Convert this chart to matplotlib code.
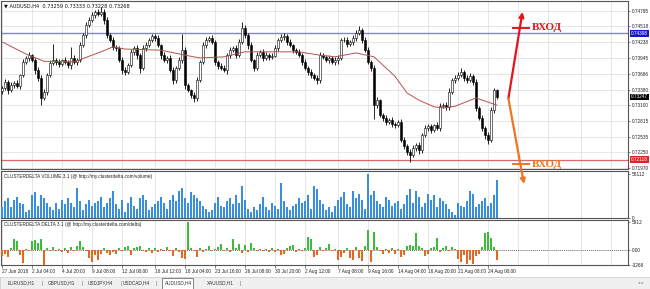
import matplotlib
matplotlib.use('Agg')
import matplotlib.pyplot as plt
import matplotlib.transforms as mtransforms
from matplotlib.patches import Rectangle
import numpy as np

plt.rcParams['font.family'] = ['Liberation Sans', 'DejaVu Sans']

# ---------------- data ----------------
header = "\u25BC AUDUSD,H4  0.73259 0.73333 0.73228 0.73268"
first_open = 0.7335
closes = [
    0.7341, 0.7352, 0.7337, 0.7346, 0.7350, 0.7345, 0.7364, 0.7388, 0.7395, 0.7400,
    0.7391, 0.7373, 0.7359, 0.7323, 0.7334, 0.7364, 0.7386, 0.7391, 0.7388, 0.7384,
    0.7391, 0.7388, 0.7382, 0.7395, 0.7388, 0.7391, 0.7418, 0.7436, 0.7454, 0.7463,
    0.7472, 0.7478, 0.7474, 0.7478, 0.7463, 0.7436, 0.7427, 0.7415, 0.7413, 0.7391,
    0.7373, 0.7370, 0.7382, 0.7406, 0.7413, 0.7400, 0.7377, 0.7413, 0.7418, 0.7427,
    0.7434, 0.7431, 0.7418, 0.7400, 0.7391, 0.7395, 0.7373, 0.7355, 0.7377, 0.7391,
    0.7409, 0.7346, 0.7337, 0.7328, 0.7323, 0.7355, 0.7388, 0.7418, 0.7427, 0.7431,
    0.7424, 0.7388, 0.7381, 0.7377, 0.7373, 0.7400, 0.7409, 0.7413, 0.7400, 0.7424,
    0.7449, 0.7436, 0.7418, 0.7391, 0.7377, 0.7400, 0.7406, 0.7395, 0.7400, 0.7397,
    0.7399, 0.7413, 0.7427, 0.7433, 0.7434, 0.7424, 0.7418, 0.7409, 0.7406, 0.7400,
    0.7388, 0.7377, 0.7370, 0.7364, 0.7359, 0.7355, 0.7400, 0.7397, 0.7391, 0.7395,
    0.7388, 0.7391, 0.7395, 0.7427, 0.7427, 0.7420, 0.7424, 0.7431, 0.7440, 0.7445,
    0.7427, 0.7409, 0.7388, 0.7377, 0.7310, 0.7319, 0.7292, 0.7287, 0.7280, 0.7283,
    0.7276, 0.7274, 0.7280, 0.7247, 0.7237, 0.7226, 0.7220, 0.7233, 0.7238, 0.7229,
    0.7256, 0.7269, 0.7272, 0.7265, 0.7274, 0.7269, 0.7308, 0.7310, 0.7307, 0.7334,
    0.7355, 0.7359, 0.7364, 0.7370, 0.7359, 0.7355, 0.7362, 0.7352, 0.7305, 0.7287,
    0.7269, 0.7256, 0.7247, 0.7301, 0.7337, 0.7325,
]
wick_up_pips = [
    4, 6, 3, 5, 4, 5, 3, 6, 4, 5,
    3, 4, 5, 6, 5, 4, 6, 30, 4, 5,
    3, 6, 4, 20, 5, 4, 6, 4, 5, 6,
    5, 4, 6, 8, 5, 6, 4, 5, 3, 4,
    5, 6, 4, 5, 3, 6, 4, 5, 6, 4,
    5, 4, 6, 3, 5, 4, 6, 5, 4, 6,
    30, 5, 4, 3, 5, 6, 4, 5, 6, 4,
    5, 4, 3, 5, 6, 4, 5, 4, 6, 5,
    10, 5, 4, 6, 3, 5, 4, 6, 5, 4,
    5, 6, 4, 6, 6, 4, 5, 3, 4, 5,
    4, 6, 3, 5, 4, 6, 5, 4, 3, 5,
    4, 6, 5, 4, 6, 5, 4, 5, 6, 8,
    4, 5, 6, 4, 5, 6, 3, 4, 5, 4,
    5, 3, 4, 6, 5, 4, 5, 6, 4, 5,
    4, 6, 5, 4, 3, 5, 6, 4, 5, 6,
    4, 5, 6, 7, 4, 5, 6, 4, 5, 4,
    5, 4, 6, 5, 4, 3,
]
wick_dn_pips = [
    5, 4, 6, 3, 5, 4, 6, 3, 4, 5,
    4, 6, 5, 13, 4, 5, 3, 4, 6, 5,
    4, 3, 5, 6, 4, 5, 3, 4, 5, 4,
    3, 5, 4, 3, 6, 5, 4, 6, 5, 4,
    6, 5, 4, 3, 5, 6, 9, 4, 5, 3,
    4, 5, 3, 6, 4, 5, 4, 6, 5, 4,
    5, 6, 4, 5, 8, 6, 4, 3, 5, 4,
    4, 6, 5, 4, 3, 6, 5, 4, 5, 3,
    4, 5, 6, 4, 5, 3, 4, 5, 4, 6,
    4, 3, 5, 4, 5, 6, 4, 5, 3, 4,
    5, 4, 6, 5, 4, 6, 5, 3, 4, 5,
    4, 5, 6, 4, 3, 5, 4, 6, 5, 4,
    5, 4, 3, 6, 25, 5, 4, 6, 5, 4,
    6, 5, 4, 3, 6, 5, 12, 4, 5, 6,
    5, 4, 6, 5, 4, 3, 5, 4, 6, 5,
    4, 5, 3, 4, 6, 5, 4, 6, 5, 4,
    5, 6, 6, 4, 5, 4,
]
volumes_k = [
    15, 22, 26, 14, 24, 28, 20, 18, 8, 10, 30, 34, 16, 30, 26, 20, 14, 10, 20, 12,
    24, 18, 26, 20, 14, 40, 22, 10, 18, 24, 16, 20, 22, 28, 14, 20, 26, 36, 18, 12,
    24, 8,
    20, 28, 16, 12, 26, 30, 24, 10, 14, 18, 22, 28, 20, 12, 24, 30, 22, 36, 40, 26,
    20, 34, 30, 26, 22, 16, 12, 8, 10, 20, 28, 16, 14, 22, 26, 18, 30, 20, 42, 24,
    12,
    8, 14, 10, 18, 28, 14, 10, 20, 16, 12, 46, 22, 14, 10, 16, 18, 26, 20, 22, 30,
    12, 42, 38, 24, 18, 10, 14, 8, 16, 24, 28, 34, 18, 14, 36, 26, 32, 24, 12, 58,
    30,
    36, 22, 18, 14, 28, 24, 16, 20, 22, 12, 18, 30, 38, 20, 36, 28, 14, 20, 32, 24,
    30, 14, 26, 22, 18, 12, 8, 4, 20, 16, 14, 22, 36, 32, 14, 18, 22, 26, 16, 20,
    30, 50,
]
deltas = [
    -1400, -900, -1500, 300, 2400, 1800, -1200, -2800, 200, -300,
    1900, 2200, 1500, 2300, -3200, 400, -200, 600, -300, 200,
    -400, 300, -700, 500, -200, 800, 1800, 500, -300, -1800,
    -2600, -1200, -2200, -900, 300, -600, -1200, -500, -900, 400,
    -300, 600, 900, -1100, 300, 700, 800, -200, -500, 300,
    -600, 400, -400, 200, -300, 500, -200, -1300, 300, -400,
    -1800, -2000, 5900, 400, -300, -1500, 300, -400, 200, 900,
    -300, 200, 600, 1300, -200, 400, -500, 2300, 300, 1200,
    -700, 1100, -400, 1500, 300, -200, 100, -300, 200, -400,
    300, -500, 200, -1200, -800, 300, 900, 1100, -400, 200,
    -300, 400, 2800, 2400, -1600, -1100, 500, -200, 300, 1200,
    -300, 200, -2100, -1500, -600, 400, -1800, -2200, 600, -1700,
    -2400, 800, 4200, -2600, 3800, 700, -300, -800, 200, -600,
    300, -900, 200, -1500, -1200, 900, 1100, 800, 3500, 900,
    400, -1300, -1000, 300, 500, 2500, -400, 400, 900, -300,
    600, 200, -1900, -2600, -1200, -3100, -2200, -3000, -1400, -800,
    600, 3500, 3800, 2500, 600, -2200,
]
ma_idx = [0, 8, 14, 24, 33, 37, 41, 53, 61, 66, 74, 81, 91, 99, 106, 111, 118,
          124, 131, 135, 139, 144, 147, 151, 158, 165]
ma_val = [0.7424, 0.7402, 0.7389, 0.7388, 0.7406, 0.7415, 0.7411, 0.7409, 0.7400,
          0.7395, 0.7397, 0.7406, 0.7406, 0.7406, 0.7400, 0.7397, 0.7404, 0.7397,
          0.7362, 0.7332, 0.7319, 0.7307, 0.7305, 0.7308, 0.7323, 0.7310]

level_blue = 0.74398
level_red = 0.72118
last_price = 0.73247
price_ticks = [0.74795, 0.74518, 0.74238, 0.73945, 0.73666, 0.73380, 0.73100,
               0.72815, 0.72535, 0.72250, 0.71970]
vol_max = 58112
delta_max = 5912
delta_min = -3268
date_labels = ["27 Jun 2018", "2 Jul 04:00", "4 Jul 20:00", "9 Jul 08:00",
               "12 Jul 00:00", "16 Jul 12:00", "18 Jul 04:00", "23 Jul 16:00",
               "26 Jul 08:00", "30 Jul 20:00", "2 Aug 12:00", "7 Aug 08:00",
               "9 Aug 16:00", "14 Aug 04:00", "16 Aug 20:00", "21 Aug 08:00",
               "24 Aug 00:00"]
date_pos = [0, 10, 20, 30, 40, 51, 61, 71, 81, 91, 101, 112, 122, 132, 142, 152, 162]
extra_grid = [172, 182, 193, 203]
tabs = ["EURUSD,H1", "GBPUSD,H1", "USDJPY,H4", "USDCAD,H4", "AUDUSD,H4", "XAUUSD,H1"]
active_tab = "AUDUSD,H4"

# annotation arrows (bar index, price)
arrow_start = (168.8, 0.7322)
arrow_up_end = (173.5, 0.7478)
arrow_dn_end = (174.0, 0.7168)
entry_up = 0.7449
entry_dn = 0.7204
entry_text = "ВХОД"

# ---------------- figure ----------------
W, H = 650, 289
fig = plt.figure(figsize=(W / 100, H / 100), dpi=100)
fig.patch.set_facecolor('white')

def fax(x0, y0, x1, y1):
    return fig.add_axes([x0 / W, 1 - y1 / H, (x1 - x0) / W, (y1 - y0) / H])

ax = fax(1, 1, 628, 169)
axv = fax(1, 171, 628, 218)
axd = fax(1, 220, 628, 265)
ax.set_zorder(5)

n = len(closes)
idx = np.arange(n)
closes_a = np.array(closes)
opens = np.concatenate([[first_open], closes_a[:-1]])
highs = np.maximum(opens, closes_a) + np.array(wick_up_pips) * 1e-4
lows = np.minimum(opens, closes_a) - np.array(wick_dn_pips) * 1e-4

XL = (-0.33, 208.67)
grid_x = date_pos + extra_grid
gcol = '#dcdcdc'
for a in (ax, axv, axd):
    a.set_xlim(*XL)
    a.set_facecolor('white')
    for gx in grid_x:
        a.axvline(gx, color=gcol, lw=0.5, zorder=0)
    for s in a.spines.values():
        s.set_color('#555555')
        s.set_linewidth(0.8)
    a.yaxis.tick_right()
    a.tick_params(axis='y', labelsize=3.4, length=1.5, width=0.4, pad=1.2, colors='#222222')
    a.tick_params(axis='x', length=0, labelbottom=False)

# main chart
ax.set_ylim(0.71951, 0.74975)
for p in price_ticks:
    ax.axhline(p, color=gcol, lw=0.5, zorder=0)
ax.set_yticks(price_ticks)
ax.set_yticklabels([f"{p:.5f}" for p in price_ticks])

ax.vlines(idx, lows, highs, color='black', lw=0.6, zorder=3)
bull = closes_a >= opens
body_bot = np.minimum(opens, closes_a)
body_h = np.maximum(np.abs(closes_a - opens), 0.00004)
ax.bar(idx[bull], body_h[bull], bottom=body_bot[bull], width=0.65,
       color='white', edgecolor='black', linewidth=0.4, zorder=4)
ax.bar(idx[~bull], body_h[~bull], bottom=body_bot[~bull], width=0.65,
       color='black', edgecolor='black', linewidth=0.4, zorder=4)
ax.plot(ma_idx, ma_val, color='#b5524e', lw=0.7, zorder=5)

ax.axhline(level_blue, color='#8585c0', lw=1.0, zorder=2)
ax.axhline(level_red, color='#d46a6a', lw=0.9, zorder=2)

tr = mtransforms.blended_transform_factory(ax.transAxes, ax.transData)
for val, bg in ((level_blue, '#1414c8'), (last_price, '#000000'), (level_red, '#e02424')):
    ax.text(1.0045, val, f"{val:.5f}", transform=tr, fontsize=3.4, color='white',
            va='center', ha='left', zorder=10,
            bbox=dict(facecolor=bg, edgecolor='none', pad=0.7))

ax.text(0.005, 0.985, header, transform=ax.transAxes, fontsize=3.6, va='top',
        ha='left', color='#111111', family=['DejaVu Sans'])

# arrows and entry marks
a1 = ax.annotate('', xy=arrow_up_end, xytext=arrow_start, annotation_clip=False,
                 arrowprops=dict(arrowstyle='-|>', color='#e4141c', lw=1.6,
                                 mutation_scale=7, shrinkA=0, shrinkB=0), zorder=12)
a2 = ax.annotate('', xy=arrow_dn_end, xytext=arrow_start, annotation_clip=False,
                 arrowprops=dict(arrowstyle='-|>', color='#f07422', lw=1.6,
                                 mutation_scale=7, shrinkA=0, shrinkB=0), zorder=12)
for a_ in (a1, a2):
    a_.set_clip_on(False)
    a_.arrow_patch.set_clip_on(False)
ax.plot([170.0, 176.0], [entry_up, entry_up], color='#e4141c', lw=1.4,
        clip_on=False, zorder=12, solid_capstyle='butt')
ax.plot([170.0, 176.0], [entry_dn, entry_dn], color='#f07422', lw=1.4,
        clip_on=False, zorder=12, solid_capstyle='butt')
ax.text(176.6, entry_up, entry_text, color='#e4141c', fontsize=8, fontweight='bold',
        family=['Liberation Serif', 'DejaVu Serif'], va='center', ha='left', zorder=12)
ax.text(176.6, entry_dn, entry_text, color='#f07422', fontsize=8, fontweight='bold',
        family=['Liberation Serif', 'DejaVu Serif'], va='center', ha='left', zorder=12,
        clip_on=False)

# volume panel
vols = np.array(volumes_k) * 1000
axv.bar(idx, vols, width=0.7, color='#3a8ede', zorder=3)
axv.set_ylim(0, vol_max * 47 / 44)
axv.set_yticks([0, vol_max])
axv.set_yticklabels(['0', str(vol_max)])
axv.text(0.005, 0.93, "CLUSTERDELTA VOLUME 3.1 (@ http://my.clusterdelta.com/volume)",
         transform=axv.transAxes, fontsize=3.4, va='top', ha='left', color='#222222',
         zorder=6)

# delta panel
d = np.array(deltas)
axd.bar(idx[d >= 0], d[d >= 0], width=0.55, color='#3dbb3d', zorder=3)
axd.bar(idx[d < 0], d[d < 0], width=0.55, color='#e8661e', zorder=3)
axd.set_ylim(delta_min, 6400)
axd.axhline(0, color='#333333', lw=0.5, ls=(0, (1.5, 1.5)), zorder=2)
axd.set_yticks([delta_min, 0, delta_max])
axd.set_yticklabels([str(delta_min), '0.00', str(delta_max)])
axd.text(0.005, 0.95, "CLUSTERDELTA DELTA 3.1 (@ http://my.clusterdelta.com/delta)",
         transform=axd.transAxes, fontsize=3.4, va='top', ha='left', color='#222222')

axd.set_xticks(date_pos)
axd.set_xticklabels(date_labels, ha='left')
axd.tick_params(axis='x', labelbottom=True, labelsize=3.4, length=2, width=0.4,
                pad=1.2, colors='#222222')

# tab strip
fig.patches.append(Rectangle((0, 0), 1, 12.5 / H, transform=fig.transFigure,
                             facecolor='#f0f0f0', edgecolor='#c8c8c8', lw=0.5))
tab_x = [8, 48, 88, 123, 165, 207]
for t, tx in zip(tabs, tab_x):
    if t == active_tab:
        fig.patches.append(Rectangle(((tx - 3) / W, 0.5 / H), 31 / W, 11 / H,
                                     transform=fig.transFigure, facecolor='white',
                                     edgecolor='#555555', lw=0.5))
    fig.text(tx / W, 6 / H, t, fontsize=3.4, va='center', ha='left', color='#333333')
    if t != active_tab:
        fig.text((tx + 33) / W, 6 / H, '|', fontsize=4, va='center', ha='left',
                 color='#777777')
fig.text(638 / W, 6 / H, '\u25C2 \u25B8', fontsize=3.2, va='center', ha='left',
         color='#888888', family=['DejaVu Sans'])

fig.savefig('out.png', dpi=100)
